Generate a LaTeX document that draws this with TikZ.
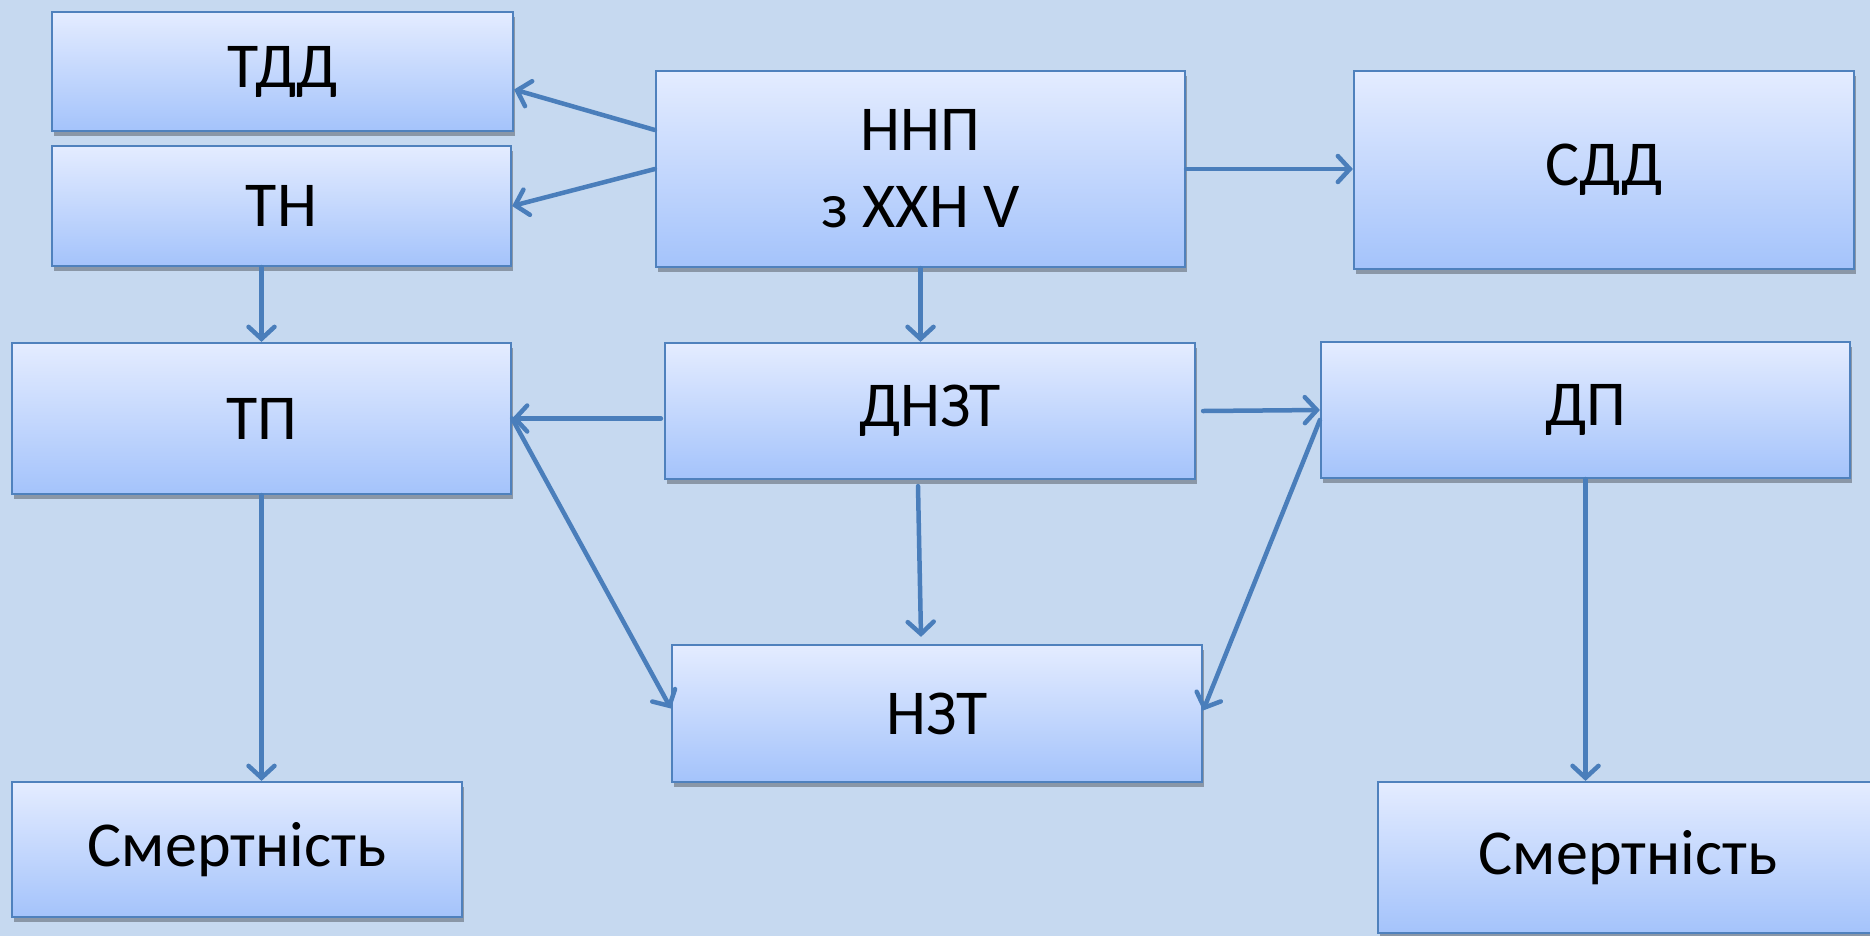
\documentclass[tikz,border=0pt]{standalone}
\usepackage{fontspec}
\setmainfont{Carlito}
\usetikzlibrary{arrows.meta,shadows,calc}
\definecolor{bgc}{RGB}{198,217,240}
\definecolor{boxtop}{RGB}{228,236,255}
\definecolor{boxbot}{RGB}{164,195,251}
\definecolor{edgec}{RGB}{79,129,189}
\definecolor{arrc}{RGB}{74,126,187}
\tikzset{
  box/.style={rectangle, draw=edgec, line width=2.2pt, top color=boxtop, bottom color=boxbot,
    inner sep=0pt, align=center, font=\fontsize{64}{77}\selectfont,
    drop shadow={shadow xshift=2pt, shadow yshift=-5pt, fill=black, opacity=0.3}},
  conn/.style={draw=arrc, line width=4.5pt, line cap=round,
    -{Straight Barb[length=12pt,width=26pt,line cap=round]}}
}
\begin{document}
\begin{tikzpicture}[x=1pt,y=-1pt]
\useasboundingbox (0,0) rectangle (1870,935);
\fill[bgc] (-10,-10) rectangle (1880,945);
\node[box, minimum width=461pt, minimum height=119pt] (tdd) at (282.5,71.5) {ТДД};
\node[box, minimum width=459pt, minimum height=120pt] (tn) at (281.5,206) {ТН};
\node[box, minimum width=529pt, minimum height=196pt] (nnp) at (920.5,169) {ННП\\з ХХН V};
\node[box, minimum width=500pt, minimum height=198pt] (sdd) at (1604,170) {СДД};
\node[box, minimum width=499pt, minimum height=151pt] (tp) at (261.5,418.5) {ТП};
\node[box, minimum width=530pt, minimum height=136pt] (dnzt) at (930,411) {ДНЗТ};
\node[box, minimum width=529pt, minimum height=136pt] (dp) at (1585.5,410) {ДП};
\node[box, minimum width=530pt, minimum height=137pt] (nzt) at (937,713.5) {НЗТ};
\node[box, minimum width=450pt, minimum height=135pt] (sm1) at (237,849.5) {Смертність};
\node[box, minimum width=500pt, minimum height=151pt] (sm2) at (1628,857.5) {Смертність};

\draw[conn] ([yshift=39pt]nnp.west) -- ([yshift=-18pt]tdd.east);
\draw[conn] (nnp.west) -- (tn.east);
\draw[conn] (nnp.east) -- (nnp.east -| sdd.west);
\draw[conn] (nnp.south) -- (nnp.south |- dnzt.north);
\draw[conn] (tp.north |- tn.south) -- (tp.north);
\draw[conn] ([xshift=-3pt]dnzt.west |- tp.east) -- (tp.east);
\draw[conn] ([xshift=7pt]dnzt.east) -- (dp.west);
\draw[conn] (tp.east) -- ([yshift=5pt]nzt.west);
\draw[conn] ([yshift=-10pt]dp.west) -- ([yshift=3pt]nzt.east);
\draw[conn] ([xshift=-12pt,yshift=-6pt]dnzt.south) -- ([xshift=-16pt,yshift=7pt]nzt.north);
\draw[conn] (tp.south) -- (tp.south |- sm1.north);
\draw[conn] (dp.south) -- (dp.south |- sm2.north);
\end{tikzpicture}
\end{document}
